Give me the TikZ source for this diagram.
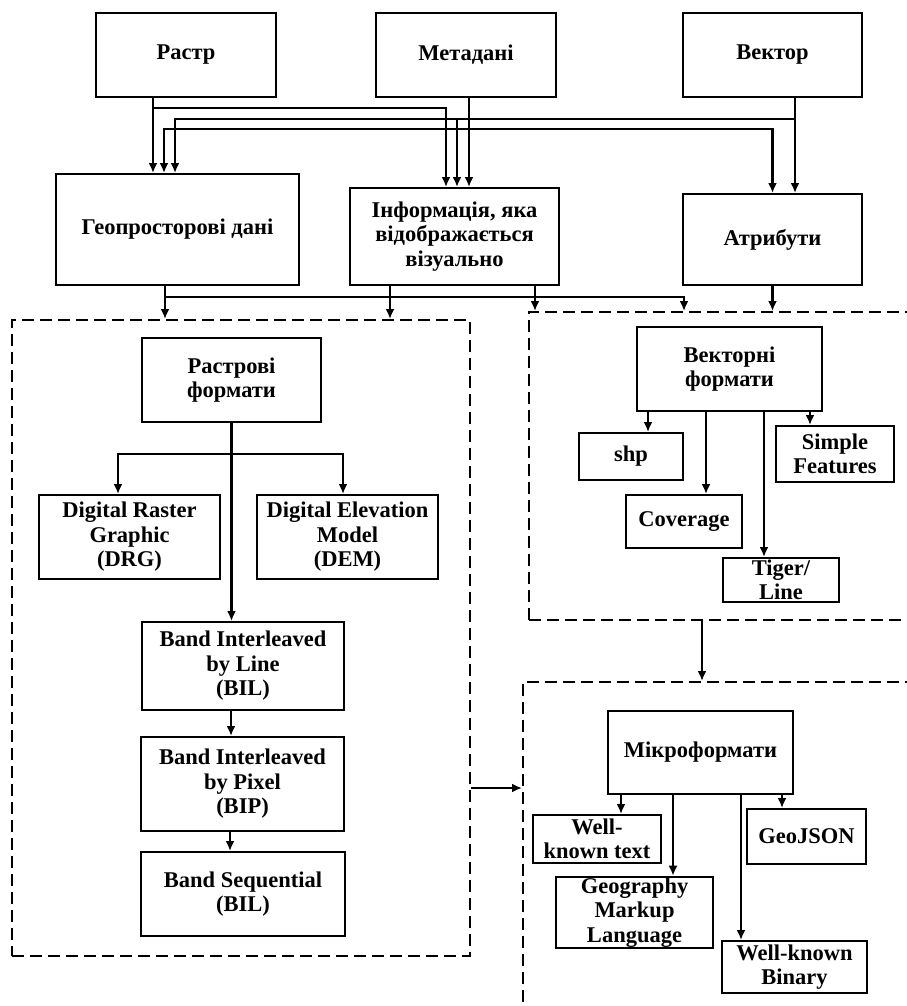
\documentclass[tikz,border=0pt]{standalone}
\usepackage{fontspec}
\setmainfont{Liberation Serif}
\usetikzlibrary{arrows.meta}

\begin{document}
\begin{tikzpicture}[x=1pt, y=-1pt,
  blk/.style={draw, line width=2pt, align=center, inner sep=1pt,
    font=\bfseries\fontsize{22.5}{24.5}\selectfont},
  grp/.style={draw, line width=2pt, dash pattern=on 12pt off 6pt},
  conn/.style={-{Latex[length=10pt,width=9pt]}, line width=2.2pt}]
\useasboundingbox (0,0) rectangle (907,1006);
\clip (0,0) rectangle (907,1006);

% top row
\node[blk, minimum width=180pt, minimum height=84pt] (rastr) at (186,55) {Растр};
\node[blk, minimum width=180pt, minimum height=84pt] (meta) at (466,55) {Метадані};
\node[blk, minimum width=179pt, minimum height=84pt] (vect) at (772.5,55) {Вектор};

% second row
\node[blk, minimum width=243pt, minimum height=111pt] (geo) at (177.5,229.5) {Геопросторові дані};
\node[blk, minimum width=209pt, minimum height=97pt] (info) at (454.5,236.5) {Інформація, яка\\відображається\\візуально};
\node[blk, minimum width=179pt, minimum height=91pt] (attr) at (772.5,239.5) {Атрибути};

% groups
\node[grp, minimum width=458pt, minimum height=636pt] (rgrp) at (241,638) {};
\node[grp, minimum width=391pt, minimum height=308pt] (vgrp) at (724.5,466) {};
\node[grp, minimum width=397pt, minimum height=338pt] (mgrp) at (721.5,851) {};

% raster formats
\node[blk, minimum width=179pt, minimum height=84pt] (rformats) at (231.5,380) {Растрові\\формати};
\node[blk, minimum width=181pt, minimum height=84pt] (drg) at (129.5,537) {Digital Raster\\Graphic\\(DRG)};
\node[blk, minimum width=181pt, minimum height=84pt] (dem) at (347.5,537) {Digital Elevation\\Model\\(DEM)};
\node[blk, minimum width=202pt, minimum height=88pt] (bil) at (243,666) {Band Interleaved\\by Line\\(BIL)};
\node[blk, minimum width=203pt, minimum height=94pt] (bip) at (242.5,784) {Band Interleaved\\by Pixel\\(BIP)};
\node[blk, minimum width=204pt, minimum height=84pt] (bsq) at (243,894) {Band Sequential\\(BIL)};

% vector formats
\node[blk, minimum width=185pt, minimum height=84pt] (vformats) at (729.5,369) {Векторні\\формати};
\node[blk, minimum width=104pt, minimum height=47pt] (shp) at (631,456.5) {shp};
\node[blk, minimum width=118pt, minimum height=56pt] (sf) at (835,454) {Simple\\Features};
\node[blk, minimum width=116pt, minimum height=53pt] (cov) at (684,521.5) {Coverage};
\node[blk, minimum width=116pt, minimum height=44pt] (tiger) at (781,580) {Tiger/\\Line};

% microformats
\node[blk, minimum width=185pt, minimum height=83pt] (micro) at (700.5,752.5) {Мікроформати};
\node[blk, minimum width=128pt, minimum height=48pt] (wkt) at (597,839) {Well-\\known text};
\node[blk, minimum width=119pt, minimum height=55pt] (geojson) at (806.5,836.5) {GeoJSON};
\node[blk, minimum width=157pt, minimum height=69pt] (gml) at (634.5,912.5) {Geography\\Markup\\Language};
\node[blk, minimum width=145pt, minimum height=52pt] (wkb) at (794.5,967) {Well-known\\Binary};

% top row -> second row
\draw[conn] ([xshift=-33]rastr.south) -- ([xshift=-33]rastr.south |- geo.north);
\draw[conn] ([xshift=-33]rastr.south) -- ++(0,10) -| ([xshift=-8.5]info.north);
\draw[conn] ([xshift=3]meta.south) -- ([xshift=3]meta.south |- info.north);
\draw[conn] ([xshift=3]meta.south) -- ++(0,31) -| ([xshift=-13.5]geo.north);
\draw[conn] ([xshift=3]meta.south) -- ++(0,31) -| (attr.north);
\draw[conn] ([xshift=22.5]vect.south) -- ([xshift=22.5]vect.south |- attr.north);
\draw[conn] ([xshift=22.5]vect.south) -- ++(0,21) -| ([xshift=-2.5]geo.north);
\draw[conn] ([xshift=22.5]vect.south) -- ++(0,21) -| ([xshift=2.5]info.north);

% second row -> groups
\draw[conn] ([xshift=-12.5]geo.south) -- ([xshift=-12.5]geo.south |- rgrp.north);
\draw[conn] ([xshift=-12.5]geo.south) -- ++(0,11) -| ([xshift=-40.5]vgrp.north);
\draw[conn] ([xshift=-64.5]info.south) -- ([xshift=-64.5]info.south |- rgrp.north);
\draw[conn] ([xshift=80.5]info.south) -- ([xshift=80.5]info.south |- vgrp.north);
\draw[conn] (attr.south) -- (attr.south |- vgrp.north);
\draw[conn] ([xshift=-22.5]vgrp.south) -- ([xshift=-22.5]vgrp.south |- mgrp.north);
\draw[conn] ([yshift=-150]rgrp.east) -- ([yshift=-150]rgrp.east -| mgrp.west);

% inside raster group
\draw[conn] (rformats.south) -- (bil.north -| rformats.south);
\draw[conn] (rformats.south) -- ++(0,31) -| ([xshift=-11.5]drg.north);
\draw[conn] (rformats.south) -- ++(0,31) -| ([xshift=-4.5]dem.north);
\draw[conn] ([xshift=-12]bil.south) -- ([xshift=-12]bil.south |- bip.north);
\draw[conn] ([xshift=-12.5]bip.south) -- ([xshift=-12.5]bip.south |- bsq.north);

% inside vector group
\draw[conn] ([xshift=-81.5]vformats.south) -- ([xshift=-81.5]vformats.south |- shp.north);
\draw[conn] ([xshift=-23.5]vformats.south) -- ([xshift=-23.5]vformats.south |- cov.north);
\draw[conn] ([xshift=34.5]vformats.south) -- ([xshift=34.5]vformats.south |- tiger.north);
\draw[conn] ([xshift=80.5]vformats.south) -- ([xshift=80.5]vformats.south |- sf.north);

% inside micro group
\draw[conn] ([xshift=-79.5]micro.south) -- ([xshift=-79.5]micro.south |- wkt.north);
\draw[conn] ([xshift=-27.5]micro.south) -- ([xshift=-27.5]micro.south |- gml.north);
\draw[conn] ([xshift=40.5]micro.south) -- ([xshift=40.5]micro.south |- wkb.north);
\draw[conn] ([xshift=81.5]micro.south) -- ([xshift=81.5]micro.south |- geojson.north);
\end{tikzpicture}
\end{document}
